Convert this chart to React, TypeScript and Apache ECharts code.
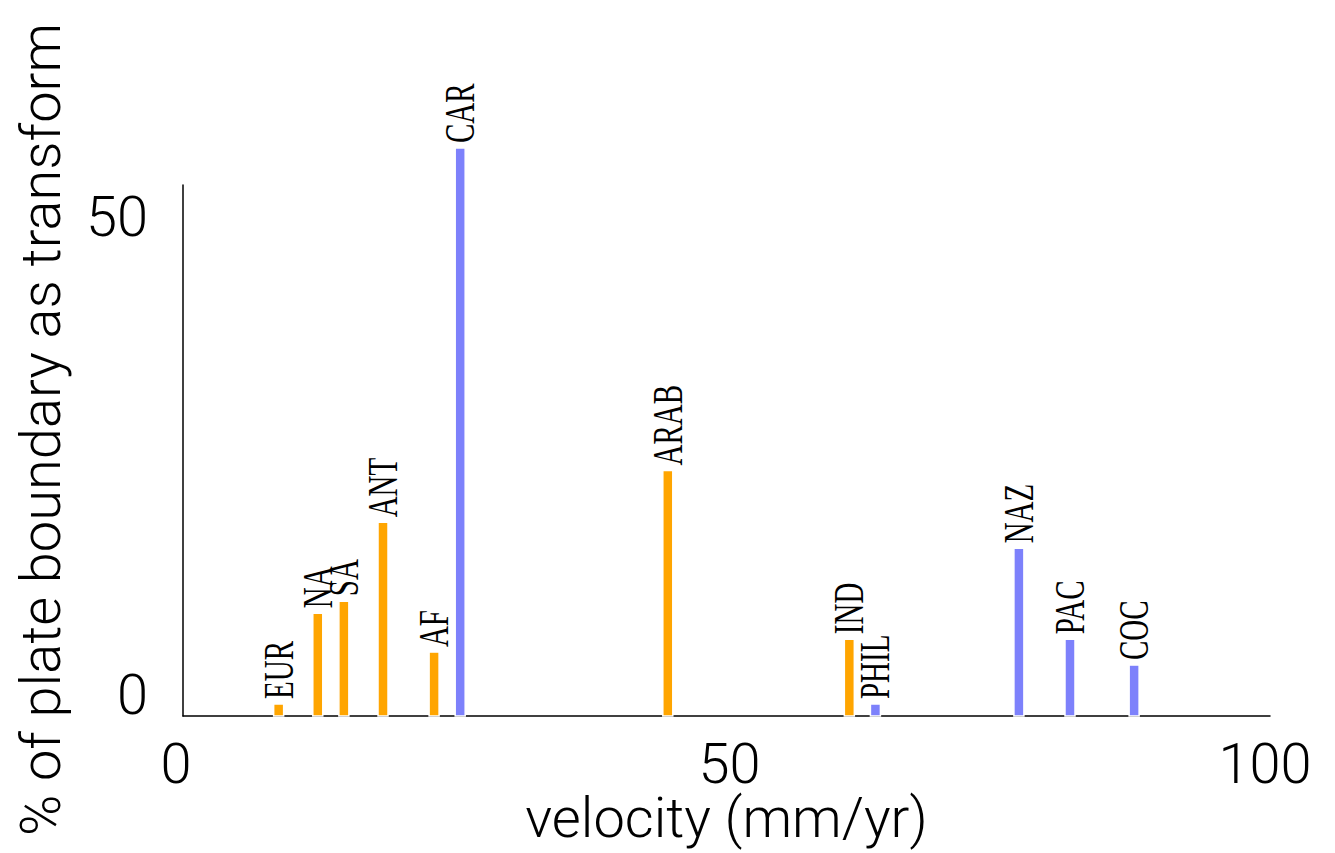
import React, { useEffect, useRef } from "react";
import * as echarts from "echarts";

// Plate data
const plates = ["EUR", "NA", "SA", "ANT", "AF", "CAR", "ARAB", "IND", "PHIL", "NAZ", "PAC", "COC"];
const velocity = [8.8, 12.4, 14.8, 18.4, 23.1, 25.5, 44.6, 61.3, 63.7, 76.9, 81.6, 87.5];
const transformPct = [1.2, 10.3, 11.5, 19.4, 6.4, 56.9, 24.6, 7.7, 1.2, 16.8, 7.7, 5.1];
const plateKind = ["cont", "cont", "cont", "cont", "cont", "ocean", "cont", "cont", "ocean", "ocean", "ocean", "ocean"];

const xTicks = [0, 50, 100];
const yTicks = [0, 50];

const COLORS: Record<string, string> = { cont: "#FFA500", ocean: "#7d81fb" };
const SANS = "'Roboto Light', Roboto, 'Liberation Sans', sans-serif";
const tickStyle = { fontFamily: SANS, fontWeight: 300, fontSize: 56, color: "#000" };
const xTickStyle = { ...tickStyle, lineHeight: 44 };

export default function App() {
  const ref = useRef<HTMLDivElement>(null);
  useEffect(() => {
    if (!ref.current) return;
    const chart = echarts.init(ref.current, undefined, { renderer: "svg" });
    const data = plates.map((p, i) => [velocity[i], transformPct[i], p, plateKind[i]]);
    chart.setOption({
      animation: false,
      backgroundColor: "#ffffff",
      grid: { left: 183, right: 65, top: 185, bottom: 137, containLabel: false, outerBoundsMode: "none" },
      xAxis: {
        type: "value",
        min: 0,
        max: 100,
        interval: 50,
        name: "velocity (mm/yr)",
        nameLocation: "middle",
        nameGap: 80,
        nameMoveOverlap: false,
        nameTextStyle: { ...tickStyle, lineHeight: 44 },
        axisLine: { show: true, onZero: false, lineStyle: { color: "#000", width: 1.5 } },
        axisTick: { show: false },
        splitLine: { show: false },
        axisLabel: {
          margin: 26,
          ...xTickStyle,
          formatter: (v: number) =>
            v === 0 ? "{a|0}" : v === 50 ? "{b|50}" : v === 100 ? "{c|100}" : "",
          rich: {
            a: { ...xTickStyle, padding: [0, 14, 0, 0] },
            b: { ...xTickStyle, padding: [0, 0, 0, 6] },
            c: { ...xTickStyle, padding: [0, 10, 0, 0] },
          },
        },
      },
      yAxis: {
        type: "value",
        min: 0,
        max: 53.2,
        interval: 50,
        name: "% of plate boundary as transform",
        nameLocation: "middle",
        nameRotate: 90,
        nameGap: 114,
        nameTextStyle: { ...tickStyle, padding: [0, 0, 0, 42] },
        axisLine: { show: true, onZero: false, lineStyle: { color: "#000", width: 1.5 } },
        axisTick: { show: false },
        splitLine: { show: false },
        axisLabel: {
          margin: 35,
          ...tickStyle,
          formatter: (v: number) => (v === 0 ? "{z|0}" : yTicks.includes(v) ? String(v) : ""),
          rich: {
            z: { ...tickStyle, padding: [0, 0, 42, 0] },
          },
        },
      },
      series: [
        {
          type: "custom",
          clip: false,
          data,
          encode: { x: 0, y: 1 },
          renderItem: (params: any, api: any) => {
            const x = api.value(0);
            const y = api.value(1);
            const name = plates[params.dataIndex];
            const kind = plateKind[params.dataIndex];
            const top = api.coord([x, y]);
            const base = api.coord([x, 0]);
            const w = 10;
            return {
              type: "group",
              children: [
                {
                  type: "rect",
                  shape: { x: top[0] - w / 2, y: top[1], width: w, height: base[1] - top[1] },
                  style: { fill: COLORS[kind], stroke: "#ffffff", lineWidth: 1.5 },
                },
                {
                  type: "text",
                  x: top[0],
                  y: top[1] - 5,
                  rotation: Math.PI / 2,
                  scaleY: 1.42,
                  style: {
                    text: name,
                    fontFamily: "'Liberation Serif', 'DejaVu Serif', serif",
                    fontSize: 29,
                    fill: "#000",
                    align: "left",
                    verticalAlign: "middle",
                  },
                },
              ],
            };
          },
        },
      ],
    });
    return () => chart.dispose();
  }, []);
  return <div ref={ref} style={{ position: "fixed", left: 0, top: 0, width: 1335, height: 853 }} />;
}
